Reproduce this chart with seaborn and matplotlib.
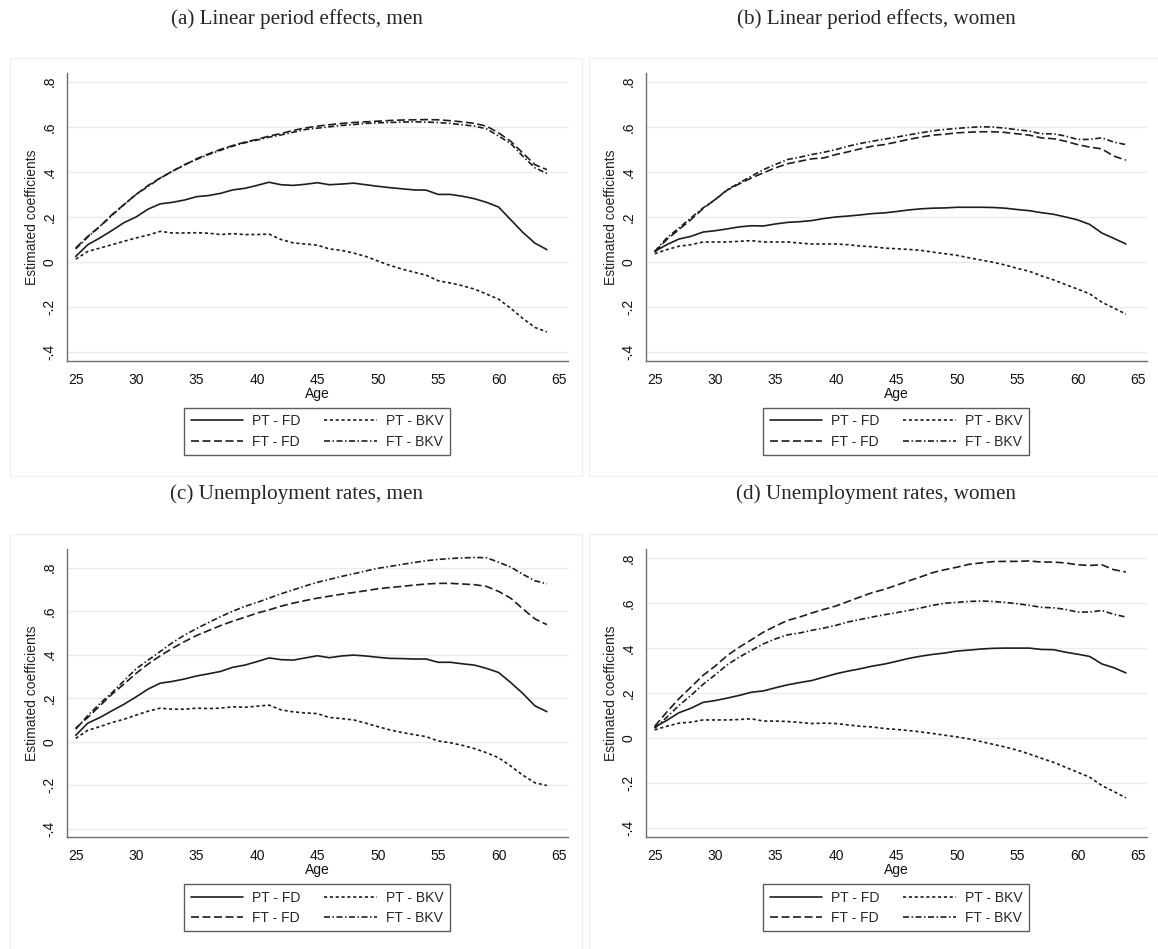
import numpy as np
import pandas as pd

import matplotlib
matplotlib.use("Agg")
import matplotlib.pyplot as plt
import seaborn as sns
from matplotlib.patches import Rectangle

#####################################
### DATA
#####################################
age = list(range(25, 65))

titles = [
    "(a) Linear period effects, men",
    "(b) Linear period effects, women",
    "(c) Unemployment rates, men",
    "(d) Unemployment rates, women",
]
series_names = ["PT - FD", "PT - BKV", "FT - FD", "FT - BKV"]

ytick_vals = [-0.4, -0.2, 0.0, 0.2, 0.4, 0.6, 0.8]
ytick_labels = ["-.4", "-.2", "0", ".2", ".4", ".6", ".8"]
xtick_vals = [25, 30, 35, 40, 45, 50, 55, 60, 65]

# (a) linear period effects, men
a_pt_fd = [0.025, 0.077, 0.107, 0.14, 0.175, 0.2, 0.235, 0.258, 0.265, 0.275,
           0.29, 0.295, 0.305, 0.32, 0.327, 0.34, 0.354, 0.343, 0.34, 0.345,
           0.352, 0.343, 0.346, 0.35, 0.343, 0.336, 0.33, 0.325, 0.32, 0.319,
           0.3, 0.3, 0.292, 0.281, 0.265, 0.244, 0.188, 0.132, 0.084, 0.055]
a_pt_bkv = [0.013, 0.047, 0.062, 0.077, 0.092, 0.107, 0.12, 0.136, 0.129, 0.129,
            0.13, 0.128, 0.122, 0.126, 0.122, 0.122, 0.124, 0.1, 0.085, 0.08,
            0.075, 0.058, 0.052, 0.04, 0.025, 0.005, -0.015, -0.031, -0.045, -0.058,
            -0.083, -0.093, -0.105, -0.12, -0.142, -0.165, -0.205, -0.25, -0.29, -0.31]
a_ft_fd = [0.062, 0.114, 0.158, 0.21, 0.255, 0.3, 0.34, 0.373, 0.403, 0.43,
           0.458, 0.48, 0.5, 0.517, 0.532, 0.544, 0.559, 0.57, 0.584, 0.595,
           0.603, 0.609, 0.615, 0.619, 0.622, 0.625, 0.628, 0.63, 0.631, 0.632,
           0.631, 0.627, 0.622, 0.615, 0.603, 0.573, 0.536, 0.484, 0.432, 0.41]
a_ft_bkv = [0.058, 0.111, 0.158, 0.207, 0.255, 0.3, 0.336, 0.372, 0.403, 0.432,
            0.455, 0.477, 0.496, 0.514, 0.529, 0.541, 0.554, 0.564, 0.576, 0.588,
            0.594, 0.6, 0.606, 0.61, 0.615, 0.618, 0.619, 0.621, 0.622, 0.621,
            0.619, 0.615, 0.609, 0.603, 0.591, 0.559, 0.526, 0.47, 0.418, 0.393]

# (b) linear period effects, women
b_pt_fd = [0.047, 0.077, 0.102, 0.114, 0.133, 0.139, 0.147, 0.156, 0.161, 0.16,
           0.169, 0.176, 0.179, 0.184, 0.193, 0.2, 0.204, 0.209, 0.215, 0.218,
           0.224, 0.231, 0.236, 0.239, 0.24, 0.243, 0.243, 0.243, 0.242, 0.239,
           0.233, 0.228, 0.219, 0.212, 0.2, 0.187, 0.167, 0.129, 0.105, 0.08]
b_pt_bkv = [0.037, 0.055, 0.07, 0.077, 0.089, 0.089, 0.089, 0.092, 0.095, 0.089,
            0.089, 0.089, 0.084, 0.08, 0.08, 0.08, 0.077, 0.071, 0.068, 0.062,
            0.059, 0.056, 0.052, 0.044, 0.037, 0.03, 0.019, 0.009, -0.001, -0.013,
            -0.028, -0.041, -0.061, -0.079, -0.1, -0.12, -0.141, -0.178, -0.204, -0.231]
b_ft_fd = [0.044, 0.1, 0.144, 0.188, 0.237, 0.277, 0.319, 0.347, 0.373, 0.396,
           0.418, 0.436, 0.447, 0.458, 0.462, 0.477, 0.489, 0.502, 0.514, 0.521,
           0.532, 0.544, 0.554, 0.563, 0.567, 0.573, 0.576, 0.578, 0.578, 0.575,
           0.569, 0.563, 0.551, 0.547, 0.536, 0.521, 0.51, 0.502, 0.47, 0.452]
b_ft_bkv = [0.047, 0.107, 0.151, 0.196, 0.24, 0.277, 0.321, 0.351, 0.381, 0.41,
            0.433, 0.455, 0.465, 0.477, 0.487, 0.499, 0.514, 0.526, 0.536, 0.545,
            0.554, 0.564, 0.573, 0.582, 0.588, 0.593, 0.597, 0.6, 0.599, 0.594,
            0.587, 0.581, 0.569, 0.569, 0.559, 0.544, 0.544, 0.551, 0.532, 0.521]

# (c) unemployment rates, men
c_pt_fd = [0.029, 0.085, 0.111, 0.142, 0.172, 0.206, 0.242, 0.269, 0.277, 0.288,
           0.302, 0.312, 0.323, 0.342, 0.352, 0.368, 0.385, 0.377, 0.375, 0.385,
           0.395, 0.386, 0.394, 0.398, 0.394, 0.388, 0.383, 0.382, 0.38, 0.38,
           0.365, 0.365, 0.358, 0.352, 0.337, 0.318, 0.272, 0.222, 0.165, 0.138]
c_pt_bkv = [0.015, 0.052, 0.069, 0.088, 0.103, 0.122, 0.14, 0.154, 0.149, 0.149,
            0.154, 0.152, 0.154, 0.16, 0.158, 0.163, 0.168, 0.146, 0.137, 0.132,
            0.129, 0.111, 0.106, 0.1, 0.085, 0.069, 0.054, 0.042, 0.032, 0.023,
            0.003, -0.005, -0.017, -0.032, -0.051, -0.074, -0.112, -0.154, -0.189, -0.202]
c_ft_fd = [0.062, 0.111, 0.165, 0.218, 0.265, 0.314, 0.357, 0.395, 0.429, 0.46,
           0.488, 0.511, 0.534, 0.554, 0.572, 0.591, 0.606, 0.623, 0.637, 0.649,
           0.66, 0.669, 0.678, 0.686, 0.694, 0.703, 0.709, 0.714, 0.72, 0.725,
           0.728, 0.728, 0.725, 0.722, 0.714, 0.691, 0.66, 0.611, 0.565, 0.538]
c_ft_bkv = [0.057, 0.12, 0.175, 0.225, 0.28, 0.335, 0.375, 0.415, 0.455, 0.49,
            0.52, 0.548, 0.575, 0.6, 0.622, 0.64, 0.66, 0.68, 0.698, 0.716,
            0.733, 0.746, 0.76, 0.772, 0.785, 0.797, 0.806, 0.815, 0.824, 0.832,
            0.838, 0.842, 0.845, 0.847, 0.846, 0.825, 0.803, 0.77, 0.74, 0.726]

# (d) unemployment rates, women
d_pt_fd = [0.049, 0.079, 0.113, 0.133, 0.159, 0.167, 0.178, 0.19, 0.204, 0.21,
           0.224, 0.237, 0.247, 0.256, 0.271, 0.286, 0.298, 0.308, 0.32, 0.329,
           0.341, 0.354, 0.364, 0.372, 0.378, 0.387, 0.391, 0.396, 0.399, 0.4,
           0.4, 0.4, 0.394, 0.393, 0.382, 0.373, 0.363, 0.33, 0.313, 0.29]
d_pt_bkv = [0.037, 0.053, 0.067, 0.071, 0.081, 0.081, 0.081, 0.083, 0.086, 0.076,
            0.076, 0.074, 0.07, 0.065, 0.067, 0.065, 0.059, 0.053, 0.05, 0.043,
            0.039, 0.034, 0.028, 0.021, 0.013, 0.006, -0.003, -0.015, -0.027, -0.039,
            -0.053, -0.07, -0.089, -0.107, -0.129, -0.151, -0.173, -0.21, -0.237, -0.265]
d_ft_fd = [0.053, 0.116, 0.175, 0.227, 0.279, 0.32, 0.367, 0.404, 0.437, 0.471,
           0.498, 0.523, 0.538, 0.556, 0.572, 0.587, 0.607, 0.627, 0.646, 0.661,
           0.679, 0.698, 0.716, 0.735, 0.748, 0.759, 0.772, 0.778, 0.784, 0.785,
           0.785, 0.787, 0.782, 0.782, 0.778, 0.77, 0.767, 0.77, 0.748, 0.738]
d_ft_bkv = [0.044, 0.093, 0.145, 0.19, 0.239, 0.281, 0.326, 0.36, 0.39, 0.419,
            0.441, 0.459, 0.467, 0.479, 0.489, 0.501, 0.516, 0.527, 0.538, 0.548,
            0.557, 0.567, 0.578, 0.59, 0.599, 0.603, 0.607, 0.609, 0.607, 0.603,
            0.597, 0.59, 0.581, 0.579, 0.572, 0.56, 0.56, 0.567, 0.55, 0.538]

panels = [
    [a_pt_fd, a_pt_bkv, a_ft_fd, a_ft_bkv],
    [b_pt_fd, b_pt_bkv, b_ft_fd, b_ft_bkv],
    [c_pt_fd, c_pt_bkv, c_ft_fd, c_ft_bkv],
    [d_pt_fd, d_pt_bkv, d_ft_fd, d_ft_bkv],
]

#####################################
### PLOT BUILD
#####################################
sns.set_style("white")
plt.rcParams["font.family"] = ["Liberation Sans", "DejaVu Sans"]

W, H = 1158, 949
fig = plt.figure(figsize=(W / 100, H / 100), dpi=100)

line_styles = [
    "-",
    (0, (1.9, 1.6)),
    (0, (4.8, 2.1)),
    (0, (3.6, 1.5, 0.9, 1.5)),
]
line_color = "#1e1e1e"
axis_color = "#6e6e6e"
grid_color = "#e3ecee"

# pixel layout: (left, top) of axes, title centre, panel box
axes_px = [(66.7, 72.7), (645.7, 72.7), (66.7, 549), (645.7, 549)]
title_px = [(297, 19), (876, 19), (297, 494), (876, 494)]
box_px = [(10, 58, 582, 476), (589, 58, 1160, 476), (10, 534, 582, 951), (589, 534, 1160, 951)]
ylims = [(-0.439, 0.84), (-0.439, 0.84), (-0.44, 0.886), (-0.44, 0.84)]
ax_w, ax_h = 501, 288.3

for i, series in enumerate(panels):
    x0, y0, x1, y1 = box_px[i]
    fig.patches.append(Rectangle((x0 / W, 1 - y1 / H), (x1 - x0) / W, (y1 - y0) / H,
                                 transform=fig.transFigure, fill=False,
                                 edgecolor="#eef0f2", lw=1.0, zorder=0))

    lx, ty = axes_px[i]
    ax = fig.add_axes([lx / W, 1 - (ty + ax_h) / H, ax_w / W, ax_h / H])

    for name, vals, ls in zip(series_names, series, line_styles):
        sns.lineplot(x=age, y=vals, ax=ax, color=line_color, linewidth=1.2,
                     linestyle=ls, legend=False)

    ax.set_xlim(24.255, 65.72)
    ax.set_ylim(*ylims[i])
    ax.set_xticks(xtick_vals)
    ax.set_xticklabels([str(v) for v in xtick_vals], fontsize=10)
    ax.set_yticks(ytick_vals)
    ax.set_yticklabels(ytick_labels, fontsize=10, rotation=90, va="center")
    for v in ytick_vals:
        ax.axhline(v, color=grid_color, lw=0.9, zorder=0)

    for side in ["top", "right"]:
        ax.spines[side].set_visible(False)
    for side in ["left", "bottom"]:
        ax.spines[side].set_color(axis_color)
        ax.spines[side].set_linewidth(1.0)
    ax.tick_params(axis="both", direction="out", length=4.2, width=1.0,
                   color=axis_color, labelcolor="#111111")
    ax.tick_params(axis="x", pad=4.2)
    ax.tick_params(axis="y", pad=3)

    ax.set_xlabel("Age", fontsize=10, labelpad=0, color="#111111")
    ax.set_ylabel("Estimated coefficients", fontsize=10, labelpad=3, color="#222222")

    # Stata legend: rows are (PT - FD, PT - BKV), (FT - FD, FT - BKV)
    handles = ax.get_lines()[:4]
    leg = ax.legend([handles[0], handles[2], handles[1], handles[3]],
                    [series_names[0], series_names[2], series_names[1], series_names[3]],
                    ncol=2, loc="upper center",
                    bbox_to_anchor=(0.5, -47 / ax_h),
                    fontsize=10, frameon=True, fancybox=False, handlelength=3.8,
                    handletextpad=0.65, columnspacing=1.7, borderpad=0.45,
                    labelspacing=0.45, borderaxespad=0)
    leg.get_frame().set_edgecolor("#333333")
    leg.get_frame().set_linewidth(1.0)

    tx, tyy = title_px[i]
    fig.text(tx / W, 1 - tyy / H, titles[i], ha="center", va="center",
             fontsize=15.2, family=["Liberation Serif", "DejaVu Serif"])

fig.savefig("out.png", dpi=100)
plt.close()
